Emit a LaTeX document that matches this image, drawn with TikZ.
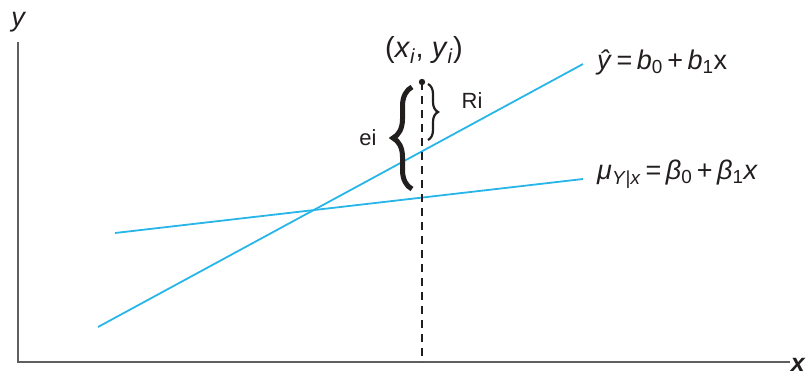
\documentclass[tikz,border=0pt]{standalone}
\usepackage{fontspec}
\setmainfont{Liberation Sans}
\usetikzlibrary{decorations.pathreplacing}
\definecolor{lineblue}{RGB}{40,182,232}
\definecolor{axisgray}{RGB}{95,95,95}
\definecolor{txt}{RGB}{35,30,30}
\begin{document}
\begin{tikzpicture}[x=1pt,y=-1pt,
  axisline/.style={draw=axisgray,line width=2.4pt},
  regline/.style={draw=lineblue,line width=1.8pt},
  lbl/.style={text=txt,inner sep=0pt,font=\fontsize{27}{30}\selectfont},
  dashline/.style={draw=txt,line width=1.4pt,dash pattern=on 8pt off 6pt},
  bigbrace/.style={draw=txt,decorate,decoration={brace,amplitude=19pt},line width=5pt},
  smallbrace/.style={draw=txt,decorate,decoration={brace,amplitude=10pt},line width=2.2pt}]
\useasboundingbox (0,0) rectangle (811,376);
% axes
\coordinate (O) at (18,362);
\coordinate (ytop) at (18,42);
\coordinate (xend) at (790,362);
\draw[axisline] (ytop) -- (O) -- (xend);
\node[lbl,font=\fontsize{27}{30}\selectfont\itshape] (ylab) at (18,22) {y};
\node[lbl,anchor=east,font=\fontsize{25}{30}\selectfont\bfseries\itshape] (xlab) at (805,365) {x};
% regression lines
\coordinate (a1) at (98,327);
\coordinate (a2) at (583,64);
\coordinate (b1) at (115,233);
\coordinate (b2) at (583,179);
\draw[regline] (a1) -- (a2);
\draw[regline] (b1) -- (b2);
% point and dashed line
\coordinate (P) at (422,82);
\coordinate (Px) at (422,362);
\fill[txt] (P) circle (3.2pt);
\draw[dashline] (P) -- (Px);
% braces
\coordinate (e1) at (412,189);
\coordinate (e2) at (412,87);
\draw[bigbrace] (e1) -- (e2);
\coordinate (r1) at (428,84);
\coordinate (r2) at (428,140);
\draw[smallbrace] (r1) -- (r2);
% labels
\node[lbl,font=\fontsize{29}{32}\selectfont] (pt) at (424,50) {(\textit{x}\textsubscript{\textit{i}}, \textit{y}\textsubscript{\textit{i}})};
\node[lbl,font=\fontsize{22}{26}\selectfont] (ri) at (472,101) {Ri};
\node[lbl,font=\fontsize{22}{26}\selectfont] (ei) at (368,138) {ei};
\node[lbl,anchor=west] (yhat) at (597,62) {\textit{ŷ}\,=\,\textit{b}\textsubscript{0}\,+\,\textit{b}\textsubscript{1}x};
\node[lbl,anchor=west] (mu) at (597,174) {\textit{μ}\textsubscript{\textit{Y}|\textit{x}}\,=\,\textit{β}\textsubscript{0}\,+\,\textit{β}\textsubscript{1}\textit{x}};
\end{tikzpicture}
\end{document}
